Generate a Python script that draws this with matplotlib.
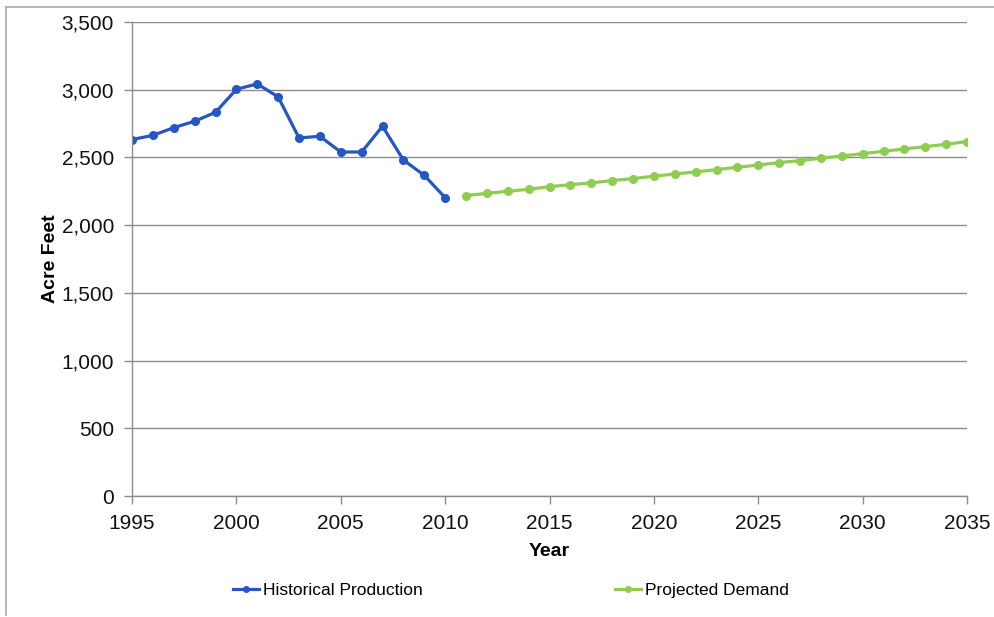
import matplotlib
matplotlib.use("Agg")
import matplotlib.pyplot as plt
from matplotlib.lines import Line2D
from matplotlib.ticker import FuncFormatter, MultipleLocator

plt.rcParams['font.family'] = ['Liberation Sans', 'DejaVu Sans']

hist_years = list(range(1995, 2011))
hist_values = [2632, 2663, 2720, 2767, 2833, 3003, 3043, 2947,
               2644, 2656, 2540, 2540, 2730, 2481, 2368, 2203]

proj_years = list(range(2011, 2036))
proj_values = [2218, 2235, 2250, 2265, 2284, 2299, 2312, 2329, 2344,
               2361, 2378, 2393, 2410, 2427, 2444, 2462, 2476, 2494,
               2511, 2528, 2545, 2563, 2580, 2597, 2617]

x_ticks = [1995, 2000, 2005, 2010, 2015, 2020, 2025, 2030, 2035]

BLUE = '#2656C4'
GREEN = '#8FCD52'
GRID = '#8C8C8C'

W, H = 995, 617
fig = plt.figure(figsize=(W / 100, H / 100), dpi=100)
ax = fig.add_axes([132 / W, 1 - 496 / H, (967 - 132) / W, (496 - 22) / H])

ax.plot(hist_years, hist_values, color=BLUE, lw=2.3, marker='o', ms=5.5,
        label='Historical Production', solid_capstyle='round')
ax.plot(proj_years, proj_values, color=GREEN, lw=2.3, marker='o', ms=5.5,
        label='Projected Demand', solid_capstyle='round')

ax.set_xlim(1995, 2035)
ax.set_ylim(0, 3500)
ax.set_xticks(x_ticks)
ax.yaxis.set_major_locator(MultipleLocator(500))
ax.yaxis.set_major_formatter(FuncFormatter(lambda v, p: f'{int(v):,}'))

ax.grid(axis='y', color=GRID, lw=1)
ax.set_axisbelow(True)
for s in ('top', 'right'):
    ax.spines[s].set_visible(False)
for s in ('left', 'bottom'):
    ax.spines[s].set_color(GRID)
    ax.spines[s].set_linewidth(1)
ax.tick_params(axis='both', colors=GRID, length=6, width=1, labelsize=15,
               labelcolor='#111111')
ax.tick_params(axis='y', pad=7)
ax.tick_params(axis='x', pad=7)

ax.set_ylabel('Acre Feet', fontsize=14, fontweight='bold', labelpad=2)
ax.set_xlabel('Year', fontsize=14, fontweight='bold', labelpad=7)

handles = [Line2D([0], [0], color=BLUE, lw=2.3, marker='o', ms=4),
           Line2D([0], [0], color=GREEN, lw=2.3, marker='o', ms=4)]
fig.legend(handles, ['Historical Production', 'Projected Demand'],
           loc='center', bbox_to_anchor=(511 / W, 1 - 590 / H), ncol=2,
           frameon=False, fontsize=12.5, handlelength=1.5, handletextpad=0.2,
           columnspacing=11.1)

# light frame around the chart area
fig.add_artist(Line2D([6 / W, 1], [1 - 7 / H, 1 - 7 / H], color='#AAAAAA', lw=1.2,
                      transform=fig.transFigure))
fig.add_artist(Line2D([6 / W, 6 / W], [1 - 7 / H, 1 - 615 / H], color='#AAAAAA', lw=1.2,
                      transform=fig.transFigure))

fig.savefig('out.png', dpi=100)
